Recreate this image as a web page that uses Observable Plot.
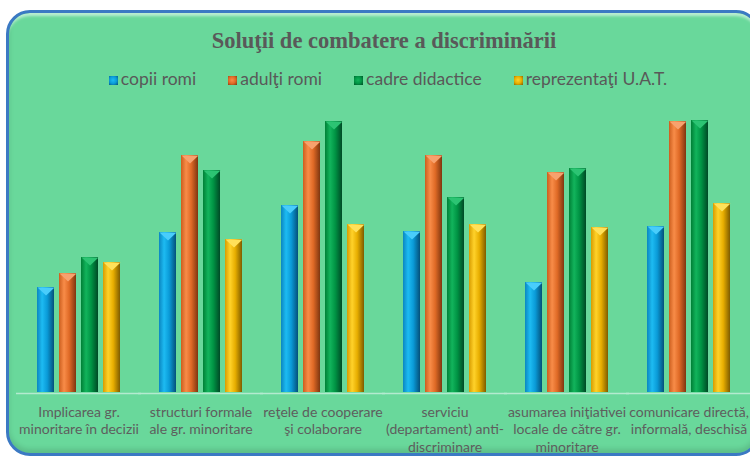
<!DOCTYPE html>
<html><head><meta charset="utf-8">
<script src="https://cdn.jsdelivr.net/npm/d3@7"></script>
<script src="https://cdn.jsdelivr.net/npm/@observablehq/plot@0.6"></script>
<style>
body{margin:0;background:#fff;}
#wrap{position:relative;width:750px;height:457px;overflow:hidden;font-family:Lato,"Noto Sans",sans-serif;}
#frame{position:absolute;left:6px;top:10px;width:748px;height:440px;border:3px solid #3b79c3;border-radius:24px;background:#69d89b;
 box-shadow: inset 0 5px 3px -2px rgba(255,255,255,0.55), inset 0 -4px 5px rgba(0,0,0,0.12);}
#title{position:absolute;top:28px;left:0;width:768px;text-align:center;font:bold 22.5px "Liberation Serif",serif;color:#595959;}
#legend{position:absolute;top:68px;left:0;width:776px;text-align:center;font-size:17.5px;color:#595959;white-space:nowrap;}
#legend span.item{margin:0 16px;}
#legend span.sw{display:inline-block;width:9px;height:9px;margin-right:3px;vertical-align:0px;}
#chart{position:absolute;left:0;top:92px;}
#chart svg{overflow:visible;}
</style></head>
<body><div id="wrap"><div id="frame"></div><div id="title">Soluţii de combatere a discriminării</div><div id="legend"></div><div id="chart"></div></div>
<script>
const categories = ["Implicarea gr. minoritare în decizii","structuri formale ale gr. minoritare","reţele de cooperare şi colaborare","serviciu (departament) anti-discriminare","asumarea iniţiativei locale de către gr. minoritare","comunicare directă, informală, deschisă"];
const labels = ["Implicarea gr.\nminoritare în decizii","structuri formale\nale gr. minoritare","reţele de cooperare\nşi colaborare","serviciu\n(departament) anti-\ndiscriminare","asumarea iniţiativei\nlocale de către gr.\nminoritare","comunicare directă,\ninformală, deschisă"];
const series = ["copii romi","adulţi romi","cadre didactice","reprezentaţi U.A.T."];
const copiiRomi = [105,160,187,161,110,166];
const adultiRomi = [119,237,251,237,220,271];
const cadreDidactice = [135,222,271,195,224,272];
const reprezentantiUAT = [130,153,168,168,165,189];
const values = [copiiRomi, adultiRomi, cadreDidactice, reprezentantiUAT];

const grads = [
  ["#0b86c0","#1dbbf2","#0a9bd8","#04507a"],
  ["#cc5e1e","#f88c48","#e06a26","#7e3610"],
  ["#008036","#12b45c","#009444","#004a26"],
  ["#d89c00","#ffd22a","#e8ae00","#7e5c00"]
];
const capColors = ["#49cdfb","#f7a26e","#2cc473","#ffe15a"];

const data = [];
categories.forEach((c,i)=>series.forEach((s,j)=>data.push({cat:c, ser:s, v:values[j][i]})));

const capSymbol = {draw(ctx){ ctx.moveTo(-8.5,0); ctx.lineTo(8.5,0); ctx.lineTo(0,8); ctx.closePath(); }};

const marks = [];
marks.push(Plot.ruleY([0],{stroke:"#b4ead0", strokeWidth:1.5, dy:1, insetLeft:-21, insetRight:-21}));
series.forEach((s,j)=>{
  const d = data.filter(r=>r.ser===s);
  marks.push(Plot.barY(d,{fx:"cat", x:"ser", y:"v", fill:`url(#g${j})`}));
  marks.push(Plot.dot(d,{fx:"cat", x:"ser", y:"v", symbol:capSymbol, r:5, fill:capColors[j], stroke:"none"}));
});
marks.push(Plot.text(categories,{fx:d=>d, text:(d,i)=>labels[i], frameAnchor:"bottom", lineAnchor:"top", dy:12, fontSize:14, fill:"#5e5e5e", lineHeight:1.25, fontFamily:"Lato"}));

const svg = Plot.plot({
  width:750, height:365, marginTop:0, marginBottom:65, marginLeft:17, marginRight:0,
  style:{background:"transparent", fontFamily:"Lato"},
  fx:{domain:categories, paddingInner:0.32, paddingOuter:0.16, axis:null},
  x:{domain:series, paddingInner:0.23, paddingOuter:0, axis:null},
  y:{domain:[0,300], axis:null},
  marks
});
const defs = d3.select(svg).insert("defs",":first-child");
grads.forEach((g,j)=>{
  const lg = defs.append("linearGradient").attr("id",`g${j}`).attr("x1","0").attr("x2","1").attr("y1","0").attr("y2","0");
  [[0,g[0]],[0.3,g[1]],[0.6,g[2]],[1,g[3]]].forEach(([o,c])=>lg.append("stop").attr("offset",o).attr("stop-color",c));
});
document.getElementById("chart").appendChild(svg);

const leg = document.getElementById("legend");
series.forEach((s,j)=>{
  const it = document.createElement("span"); it.className="item";
  const sw = document.createElement("span"); sw.className="sw";
  sw.style.background = `radial-gradient(circle at 45% 45%, ${grads[j][1]}, ${grads[j][2]} 50%, ${grads[j][3]})`;
  it.appendChild(sw); it.appendChild(document.createTextNode(s));
  leg.appendChild(it);
});
</script></body></html>
